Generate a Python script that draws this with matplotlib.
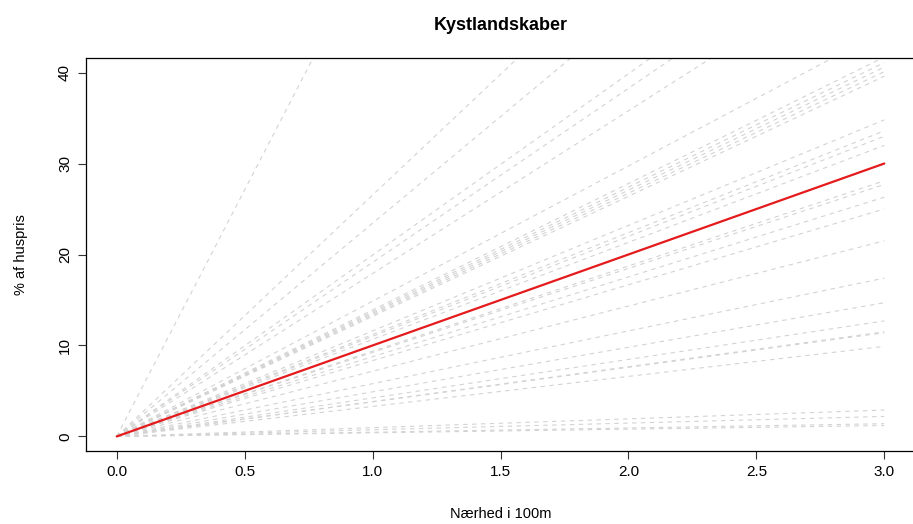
import matplotlib.pyplot as plt

plt.rcParams['font.family'] = ['Liberation Sans', 'DejaVu Sans']

# x range of every line (Nærhed i 100m)
x_span = [0.0, 3.0]

# value of each grey (individual) line at x = 3.0, all start at 0
draw_ends = [162.6, 79.6, 70.3, 59.8, 57.4, 53.7, 44.6,
             41.7, 41.1, 40.6, 40.1, 39.6,
             34.8, 33.6, 33.0, 32.0,
             28.1, 27.7, 26.3, 25.0, 21.5, 17.4, 14.7,
             12.7, 11.5, 11.4, 9.9,
             2.9, 2.2, 1.4, 1.2]

# the mean line (red)
mean_end = 30.0

x_ticks = [0.0, 0.5, 1.0, 1.5, 2.0, 2.5, 3.0]
y_ticks = [0, 10, 20, 30, 40]

fig = plt.figure(figsize=(9.13, 5.24), dpi=100)
ax = fig.add_axes([86 / 913, 1 - 451 / 524, 829 / 913, 393 / 524])

for end in draw_ends:
    ax.plot(x_span, [0, end], color='#d3d3d3', lw=0.8,
            linestyle=(0, (4, 4)), zorder=1)
ax.plot(x_span, [0, mean_end], color='#e41a1c', lw=1.6, zorder=3,
        solid_capstyle='round')

# R-style 4% padding around 0..3 and 0..40
ax.set_xlim(-0.12, 3.12)
ax.set_ylim(-1.6, 41.6)
ax.set_xticks(x_ticks)
ax.set_xticklabels([f'{t:.1f}' for t in x_ticks])
ax.set_yticks(y_ticks)
ax.set_yticklabels([str(t) for t in y_ticks], rotation=90, va='center')
ax.tick_params(direction='out', length=6, width=0.8, labelsize=11,
               pad=4, color='#333333')

for s in ax.spines.values():
    s.set_linewidth(0.9)
# the box's right edge falls just outside the picture
ax.spines['right'].set_visible(False)

ax.set_title('Kystlandskaber', fontsize=13, fontweight='bold', pad=20)
ax.set_xlabel('Nærhed i 100m', fontsize=10.5, labelpad=20)
ax.set_ylabel('% af huspris', fontsize=10.5, labelpad=22)

fig.savefig('out.png', dpi=100)
